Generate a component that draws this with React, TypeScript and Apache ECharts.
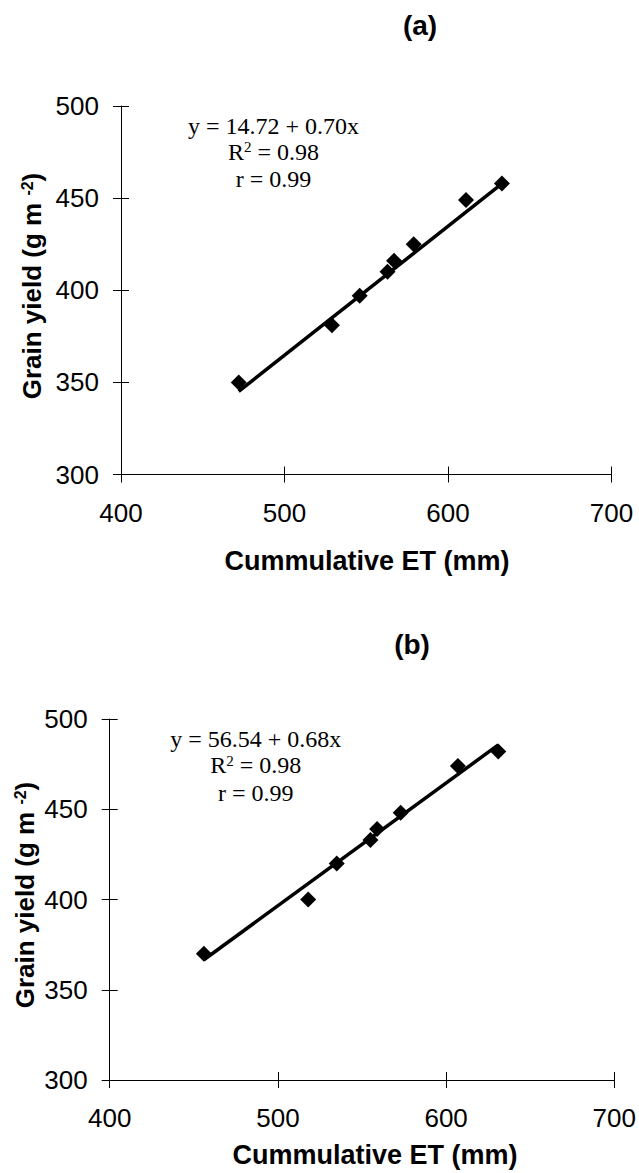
import React, { useEffect, useRef } from "react";
import * as echarts from "echarts";

// ---- data ----
const A_ET = [472, 529, 546, 563, 567, 579, 611, 633];
const A_YIELD = [350, 381, 397, 410, 416, 425, 449, 458];
const A_INTERCEPT = 14.72;
const A_SLOPE = 0.7;
const A_EQUATION = ["y = 14.72 + 0.70x", "R{sup|2} = 0.98", "r = 0.99"];

const B_ET = [456, 518, 535, 555, 559, 573, 607, 631];
const B_YIELD = [370, 400, 420, 433, 439, 448, 474, 482];
const B_INTERCEPT = 56.54;
const B_SLOPE = 0.68;
const B_EQUATION = ["y = 56.54 + 0.68x", "R{sup|2} = 0.98", "r = 0.99"];

const X_MIN = 400;
const X_MAX = 700;
const X_STEP = 100;
const Y_MIN = 300;
const Y_MAX = 500;
const Y_STEP = 50;

const PANEL_TITLES = ["(a)", "(b)"];
const X_TITLE = "Cummulative ET (mm)";
const Y_TITLE = "Grain yield (g m {sup|-2})";

const SANS = "'Liberation Sans', Arial, sans-serif";
const SERIF = "'Liberation Serif', 'Times New Roman', serif";

function fitLine(xs: number[], a: number, b: number) {
  const lo = Math.min(...xs);
  const hi = Math.max(...xs);
  return [
    [lo, a + b * lo],
    [hi, a + b * hi],
  ];
}

function xAxes(gridIndex: number) {
  const base = {
    gridIndex,
    type: "value",
    min: X_MIN,
    max: X_MAX,
    interval: X_STEP,
    position: "bottom",
    splitLine: { show: false },
  };
  return [
    {
      ...base,
      axisLine: { show: true, lineStyle: { color: "#000", width: 1 } },
      axisTick: { show: true, inside: false, length: 8, lineStyle: { color: "#000", width: 1 } },
      axisLabel: { show: true, margin: 25, fontSize: 26, fontFamily: SANS, color: "#000" },
    },
    {
      ...base,
      axisLine: { show: false },
      axisTick: { show: true, inside: true, length: 8, lineStyle: { color: "#000", width: 1 } },
      axisLabel: { show: false },
    },
  ];
}

function yAxes(gridIndex: number) {
  const base = {
    gridIndex,
    type: "value",
    min: Y_MIN,
    max: Y_MAX,
    interval: Y_STEP,
    position: "left",
    splitLine: { show: false },
  };
  return [
    {
      ...base,
      axisLine: { show: true, lineStyle: { color: "#000", width: 1 } },
      axisTick: { show: true, inside: false, length: 8, lineStyle: { color: "#000", width: 1 } },
      axisLabel: { show: true, margin: 22, fontSize: 26, fontFamily: SANS, color: "#000" },
    },
    {
      ...base,
      axisLine: { show: false },
      axisTick: { show: true, inside: true, length: 8, lineStyle: { color: "#000", width: 1 } },
      axisLabel: { show: false },
    },
  ];
}

function seriesFor(axisIndex: number, xs: number[], ys: number[], a: number, b: number) {
  return [
    {
      type: "line",
      xAxisIndex: axisIndex,
      yAxisIndex: axisIndex,
      data: fitLine(xs, a, b),
      symbol: "none",
      lineStyle: { color: "#000", width: 3.5 },
      z: 2,
    },
    {
      type: "scatter",
      xAxisIndex: axisIndex,
      yAxisIndex: axisIndex,
      data: xs.map((x, i) => [x, ys[i]]),
      symbol: "diamond",
      symbolSize: 16,
      itemStyle: { color: "#000", opacity: 1 },
      z: 3,
    },
  ];
}

function equationTexts(lines: string[], cx: number, ys: number[]) {
  return lines.map((t, i) => ({
    type: "text",
    x: cx,
    y: ys[i],
    style: {
      text: t,
      fontSize: 24,
      fontFamily: SERIF,
      fill: "#000",
      align: "center",
      verticalAlign: "middle",
      rich: {
        sup: { fontSize: 15, fontFamily: SERIF, fill: "#000", verticalAlign: "top", lineHeight: 14 },
      },
    },
  }));
}

function yTitle(cx: number, cy: number) {
  return {
    type: "text",
    x: cx,
    y: cy,
    rotation: Math.PI / 2,
    style: {
      text: Y_TITLE,
      fontSize: 26,
      fontWeight: "bold",
      fontFamily: SANS,
      fill: "#000",
      align: "center",
      verticalAlign: "middle",
      rich: {
        sup: { fontSize: 16, fontWeight: "bold", fontFamily: SANS, fill: "#000", verticalAlign: "top", lineHeight: 16 },
      },
    },
  };
}

function centeredText(text: string, x: number, y: number, size: number) {
  return {
    type: "text",
    x,
    y,
    style: {
      text,
      fontSize: size,
      fontWeight: "bold",
      fontFamily: SANS,
      fill: "#000",
      align: "center",
      verticalAlign: "middle",
    },
  };
}

export default function App() {
  const ref = useRef<HTMLDivElement>(null);

  useEffect(() => {
    if (!ref.current) return;
    const chart = echarts.init(ref.current, null, { renderer: "svg" });
    const option = {
      animation: false,
      backgroundColor: "#fff",
      grid: [
        { left: 121, right: 27.5, top: 106, bottom: 698.5 },
        { left: 109.7, right: 20.7, top: 719, bottom: 93 },
      ],
      xAxis: [...xAxes(0), ...xAxes(1)],
      yAxis: [...yAxes(0), ...yAxes(1)],
      series: [
        ...seriesFor(0, A_ET, A_YIELD, A_INTERCEPT, A_SLOPE),
        ...seriesFor(2, B_ET, B_YIELD, B_INTERCEPT, B_SLOPE),
      ],
      graphic: [
        centeredText(PANEL_TITLES[0], 420, 25, 28),
        centeredText(PANEL_TITLES[1], 412, 644, 28),
        centeredText(X_TITLE, 367, 561, 27),
        centeredText(X_TITLE, 375, 1155, 27),
        yTitle(32, 286),
        yTitle(25, 895),
        ...equationTexts(A_EQUATION, 273.5, [125.7, 151.7, 179.3]),
        ...equationTexts(B_EQUATION, 255.7, [739.3, 765.3, 792.7]),
      ],
    };
    chart.setOption(option as any);
    return () => chart.dispose();
  }, []);

  return (
    <div
      ref={ref}
      style={{ position: "absolute", left: 0, top: 0, width: 639, height: 1173, background: "#fff" }}
    />
  );
}
